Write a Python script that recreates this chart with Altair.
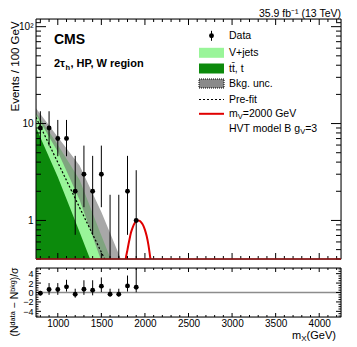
import altair as alt
import pandas as pd

FONT = "Liberation Sans"

# ---------------- values ----------------
bin_centers = [800, 900, 1000, 1100, 1200, 1300, 1400, 1500, 1600, 1700, 1800, 1900]
data_counts = [9, 9, 7, 7, 2, 3, 2, 3, 0, 0, 2, 1]
data_err_lo = [5.9, 5.9, 4.6, 4.6, 0.71, 1.37, 0.71, 1.37, 0.01, 0.01, 0.71, 0.17]
data_err_hi = [13.4, 13.4, 10.9, 10.9, 4.64, 5.92, 4.64, 5.92, 1.84, 1.84, 4.64, 3.30]

pull_values = [-0.15, 0.64, 0.64, 1.2, -0.36, 0.7, 0.5, 1.35, -0.35, -0.35, 1.4, 1.1]
pull_err_lo = [-0.6, -0.5, -0.5, 0.2, -1.1, -0.5, -0.6, 0.1, -0.9, -0.9, 0.2, 0.05]
pull_err_hi = [0.35, 2.0, 2.0, 2.7, 0.8, 2.6, 2.6, 3.2, 0.8, 0.8, 3.6, 5.5]

bkg_mass = [750, 1000, 1250, 1500, 1750, 2000]
ttbar_yield = [9.1, 2.81, 0.76, 0.20, 0.055, 0.015]
total_yield = [13.0, 6.05, 2.63, 0.70, 0.19, 0.05]
unc_up = [14.4, 7.28, 3.70, 1.22, 0.35, 0.10]
unc_down = [12.4, 5.13, 1.64, 0.38, 0.089, 0.02]
prefit_yield = [11.6, 3.97, 1.36, 0.47, 0.16, 0.05]

signal_mass = [1770, 1780, 1800, 1820, 1840, 1860, 1880, 1900, 1920, 1940, 1960,
               1980, 2000, 2020, 2040, 2060, 2075]
signal_yield = [0.33, 0.40, 0.50, 0.62, 0.75, 0.85, 0.93, 0.98, 1.0, 0.99, 0.95,
                0.89, 0.80, 0.69, 0.56, 0.42, 0.33]

x_tick_labels = [1000, 1500, 2000, 2500, 3000, 3500, 4000]
y_main_labels = [1, 10, 100]
y_low_labels = [-4, -2, 0, 2, 4]

# ---------------- style / layout ----------------
W = 305
H_MAIN = 240
H_LOW = 49
LIGHT = "#99f599"
DARK = "#0c8a0c"
GRAY = "#6e6e6e"
RED = "#e00000"

AR = {' ': 278, '(': 333, ')': 333, ',': 278, '-': 333, '.': 278, '/': 278, '=': 584, '+': 584,
      'A': 667, 'B': 667, 'C': 722, 'D': 722, 'E': 667, 'G': 778, 'H': 722, 'M': 833, 'P': 667,
      'S': 667, 'T': 611, 'V': 667, 'W': 944, 'X': 667,
      'a': 556, 'b': 556, 'c': 500, 'd': 556, 'e': 556, 'f': 278, 'g': 556, 'h': 556, 'i': 222,
      'j': 222, 'k': 500, 'l': 222, 'm': 833, 'n': 556, 'o': 556, 'r': 333, 's': 500, 't': 278,
      'u': 556, 'v': 500, 'x': 500}
ARB = {' ': 278, ',': 278, '2': 556, 'τ': 480, 'h': 611, 'H': 722, 'P': 667, 'W': 944, 'r': 389,
       'e': 556, 'g': 611, 'i': 278, 'o': 611, 'n': 611}


def tw(s, size, bold=False):
    d = ARB if bold else AR
    return sum(d.get(c, 556) for c in s) * size / 1000.0


x_scale = alt.Scale(domain=[750, 4250], nice=False, zero=False)
y_main_scale = alt.Scale(type="log", domain=[0.4, 120], nice=False)
y_low_scale = alt.Scale(domain=[-5.2, 5.2], nice=False, zero=False)

x_axis_low = alt.Axis(values=x_tick_labels, ticks=False, domain=False, grid=False, title=None,
                      labelFontSize=10, labelFont=FONT, labelPadding=1, labelColor="black",
                      format="d")
y_axis_main = alt.Axis(values=y_main_labels,
                       labelExpr="datum.value == 100 ? '10\u00b2' : (datum.value == 10 ? '10' : '1')",
                       ticks=False, domain=False, grid=False, title="Events / 100 GeV",
                       titleFontSize=11.5, titleFont=FONT, titleFontWeight="normal", titleColor="black",
                       titleAngle=270, titleAlign="left", titleBaseline="bottom",
                       titleX=-16, titleY=92,
                       labelFontSize=10, labelFont=FONT, labelPadding=3, labelColor="black",
                       labelOverlap=False)
y_axis_low = alt.Axis(values=y_low_labels, ticks=False, domain=False, grid=False,
                      title="(N\u1d48\u1d43\u1d57\u1d43 \u2212 N\u1d47\u1d4f\u1d4d)/\u03c3",
                      titleFontSize=10.5, titleFont=FONT, titleFontWeight="normal", titleColor="black",
                      titleAngle=270, titleAlign="left", titleBaseline="bottom",
                      titleX=-17, titleY=68,
                      labelFontSize=9, labelFont=FONT, labelPadding=3, labelColor="black",
                      labelOverlap=False, labelBound=False, labelFlush=False)


def MX(f):
    return alt.X(f"{f}:Q", scale=x_scale, axis=None)


def MY(f):
    return alt.Y(f"{f}:Q", scale=y_main_scale, axis=y_axis_main)


def LX(f):
    return alt.X(f"{f}:Q", scale=x_scale, axis=x_axis_low)


def LY(f):
    return alt.Y(f"{f}:Q", scale=y_low_scale, axis=y_axis_low)


one = pd.DataFrame({"k": [0]})


def txt(s, x, y, size, bold=False, align="left", color="black"):
    return alt.Chart(one).mark_text(text=s, fontSize=size, fontWeight="bold" if bold else "normal",
                                    font=FONT, align=align, baseline="middle", color=color
                                    ).encode(x=alt.value(x), y=alt.value(y))


def box(x1, x2, y1, y2, fill, stroke=None, dash=None, opacity=1.0):
    kw = dict(fill=fill, fillOpacity=opacity)
    if stroke:
        kw.update(stroke=stroke, strokeWidth=1)
    if dash:
        kw.update(strokeDash=dash)
    return alt.Chart(one).mark_rect(**kw).encode(
        x=alt.value(x1), x2=alt.value(x2), y=alt.value(y1), y2=alt.value(y2))


def seg(x1, x2, y1, y2, color="black", width=1, dash=None):
    kw = dict(color=color, strokeWidth=width)
    if dash:
        kw.update(strokeDash=dash)
    return alt.Chart(one).mark_rule(**kw).encode(
        x=alt.value(x1), x2=alt.value(x2), y=alt.value(y1), y2=alt.value(y2))


def xticks(vals, H, length, XF):
    df = pd.DataFrame({"t": vals})
    b = alt.Chart(df).mark_rule(color="black", strokeWidth=1)
    return [b.encode(x=XF("t"), y=alt.value(H), y2=alt.value(H - length)),
            b.encode(x=XF("t"), y=alt.value(0), y2=alt.value(length))]


def yticks(vals, length, YF):
    df = pd.DataFrame({"t": vals})
    b = alt.Chart(df).mark_rule(color="black", strokeWidth=1)
    return [b.encode(y=YF("t"), x=alt.value(0), x2=alt.value(length)),
            b.encode(y=YF("t"), x=alt.value(W), x2=alt.value(W - length))]


x_major = [m for m in range(1000, 4001, 500)]
x_minor = [m for m in range(800, 4201, 100) if m % 500 != 0]
y_main_minor = [0.4, 0.5, 0.6, 0.7, 0.8, 0.9] + [float(i) for i in range(2, 10)] + \
               [float(10 * i) for i in range(2, 10)] + [110.0]
y_low_minor = [v / 2 for v in range(-10, 11) if v % 4 != 0]

# ---------------- main panel ----------------
bkg = pd.DataFrame({"mass": bkg_mass, "ttbar": ttbar_yield, "total": total_yield,
                    "up": unc_up, "down": unc_down, "prefit": prefit_yield})
sig = pd.DataFrame({"mass": signal_mass, "sig": signal_yield})
dat = pd.DataFrame({"mass": bin_centers, "n": data_counts, "lo": data_err_lo, "hi": data_err_hi})

light = alt.Chart(bkg).mark_area(color=LIGHT, clip=True, opacity=1).encode(
    x=MX("mass"), y=MY("total"), y2=alt.datum(0.01))
dark = alt.Chart(bkg).mark_area(color=DARK, clip=True, opacity=1).encode(
    x=MX("mass"), y=MY("ttbar"), y2=alt.datum(0.01))
band = alt.Chart(bkg).mark_area(color=GRAY, opacity=0.6, clip=True).encode(
    x=MX("mass"), y=MY("up"), y2=alt.Y2("down"))
prefit = alt.Chart(bkg).mark_line(color="black", strokeDash=[2, 2], strokeWidth=1.2, clip=True).encode(
    x=MX("mass"), y=MY("prefit"))
signal = alt.Chart(sig).mark_line(color=RED, strokeWidth=2, clip=True, interpolate="monotone").encode(
    x=MX("mass"), y=MY("sig"))
ebars = alt.Chart(dat).mark_rule(color="black", strokeWidth=1, clip=True).encode(
    x=MX("mass"), y=MY("lo"), y2=alt.Y2("hi"))
points = alt.Chart(dat).transform_filter("datum.n > 0").mark_circle(
    size=24, color="black", opacity=1).encode(x=MX("mass"), y=MY("n"))

main_layers = [light, dark, band, prefit, signal, ebars, points]
main_layers += xticks(x_major, H_MAIN, 6, MX) + xticks(x_minor, H_MAIN, 3, MX)
main_layers += yticks([1.0, 10.0, 100.0], 10, MY) + yticks(y_main_minor, 5, MY)
main_layers += [box(0, W, 0, H_MAIN, "white", stroke="black", opacity=0),
                seg(0, W, H_MAIN, H_MAIN, color="#9a1818", width=1.5)]

# CMS label and region label
main_layers.append(txt("CMS", 18, 21, 14, bold=True))
x0 = 18
main_layers.append(txt("2\u03c4", x0, 45, 11, bold=True))
x1 = x0 + tw("2\u03c4", 11, True)
main_layers.append(txt("h", x1, 48.5, 7.5, bold=True))
x2 = x1 + tw("h", 7.5, True) + 0.5
main_layers.append(txt(", HP, W region", x2, 45, 11, bold=True))

# legend
LX0, LX1, TX = 163, 188, 193
LS = 10.5
rows = [16.8, 33.8, 49.5, 64.5, 80.5, 94.8, 109.6]
main_layers += [seg(175.5, 175.5, rows[0] - 5, rows[0] + 5),
                alt.Chart(one).mark_circle(size=24, color="black", opacity=1).encode(
                    x=alt.value(175.5), y=alt.value(rows[0])),
                txt("Data", TX, rows[0], LS)]
main_layers += [box(LX0, LX1, rows[1] - 5, rows[1] + 5, LIGHT), txt("V+jets", TX, rows[1], LS)]
main_layers += [box(LX0, LX1, rows[2] - 5, rows[2] + 5, DARK), txt("tt\u0304, t", TX, rows[2], LS)]
main_layers += [box(LX0, LX1, rows[3] - 4.5, rows[3] + 4.5, "#8a8a8a", stroke="black", dash=[1, 1]),
                txt("Bkg. unc.", TX, rows[3], LS)]
main_layers += [seg(LX0, LX1, rows[4], rows[4], dash=[2, 2], width=1.2), txt("Pre-fit", TX, rows[4], LS)]
main_layers += [seg(LX0, LX1, rows[5], rows[5], color=RED, width=2), txt("m", TX, rows[5], LS)]
xa = TX + tw("m", LS)
main_layers += [txt("V", xa, rows[5] + 3, 7.5), txt("=2000 GeV", xa + tw("V", 7.5), rows[5], LS)]
hv = "HVT model B g"
main_layers += [txt(hv, TX, rows[6], LS)]
xb = TX + tw(hv, LS)
main_layers += [txt("V", xb, rows[6] + 3, 7.5), txt("=3", xb + tw("V", 7.5), rows[6], LS)]

main = alt.layer(*main_layers).properties(
    width=W, height=H_MAIN,
    title=alt.TitleParams(text="35.9 fb\u207b\u00b9 (13 TeV)", anchor="end", frame="group",
                          fontSize=10.5, font=FONT, fontWeight="normal", color="black", offset=-1))

# ---------------- ratio (pull) panel ----------------
pulls = pd.DataFrame({"mass": bin_centers, "pull": pull_values, "lo": pull_err_lo, "hi": pull_err_hi})
zero = pd.DataFrame({"z": [0.0]})

low_layers = [
    alt.Chart(zero).mark_rule(color="#8c8c8c", strokeWidth=1.5).encode(
        y=LY("z"), x=alt.value(0), x2=alt.value(W)),
    alt.Chart(pulls).mark_rule(color="black", strokeWidth=1, clip=True).encode(
        x=LX("mass"), y=LY("lo"), y2=alt.Y2("hi")),
    alt.Chart(pulls).mark_circle(size=24, color="black", opacity=1).encode(
        x=LX("mass"), y=LY("pull")),
]
low_layers += xticks(x_major, H_LOW, 4, LX) + xticks(x_minor, H_LOW, 2, LX)
low_layers += yticks([float(v) for v in y_low_labels], 5, LY) + yticks(y_low_minor, 2.5, LY)
low_layers += [box(0, W, 0, H_LOW, "white", stroke="black", opacity=0)]

# x title m_X (GeV)
XS = 11
t_total = tw("m", XS) + tw("X", 8) + tw(" (GeV)", XS)
xs0 = W - 2 - t_total
low_layers += [txt("m", xs0, 68, XS),
               txt("X", xs0 + tw("m", XS), 71, 8),
               txt(" (GeV)", xs0 + tw("m", XS) + tw("X", 8), 68, XS)]

lower = alt.layer(*low_layers).properties(width=W, height=H_LOW)

chart = alt.vconcat(main, lower, spacing=5).properties(
    padding={"left": 0, "top": 0, "right": 0, "bottom": 0}
).configure_view(stroke=None).configure(font=FONT)

chart.save("out.html", embed_options={"renderer": "svg", "actions": False})
